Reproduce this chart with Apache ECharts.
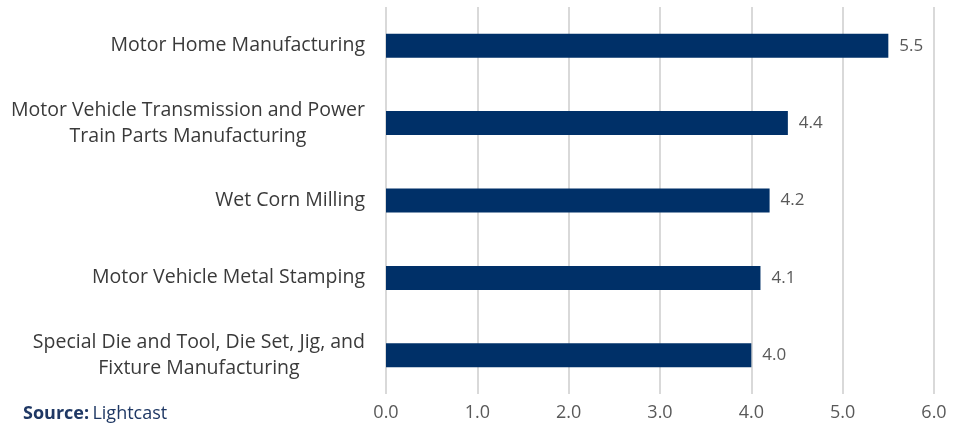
<!DOCTYPE html>
<html><head><meta charset="utf-8">
<script src="https://cdn.jsdelivr.net/npm/echarts@6/dist/echarts.min.js"></script>
<style>html,body{margin:0;padding:0;background:#fff}#c{width:965px;height:431px}</style>
</head><body><div id="c"></div>
<script>
const categories = [
  "Motor Home Manufacturing",
  "Motor Vehicle Transmission and Power\nTrain Parts Manufacturing",
  "Wet Corn Milling",
  "Motor Vehicle Metal Stamping",
  "Special Die and Tool, Die Set, Jig, and\nFixture Manufacturing"
];
const values = [5.5, 4.4, 4.2, 4.1, 4.0];
const xTicks = [0, 1, 2, 3, 4, 5, 6];

const chart = echarts.init(document.getElementById('c'));
const font = '"Open Sans", "Noto Sans", sans-serif';
chart.setOption({
  animation: false,
  grid: { left: 386, right: 31, top: 7, bottom: 37, containLabel: false },
  xAxis: {
    type: 'value', min: xTicks[0], max: xTicks[xTicks.length - 1], interval: 1,
    axisLine: { show: false }, axisTick: { show: false },
    splitLine: { lineStyle: { color: '#d9d9d9', width: 2 } },
    axisLabel: { color: '#595959', fontSize: 18, fontFamily: font, margin: 10,
      formatter: v => v.toFixed(1) }
  },
  yAxis: {
    type: 'category', data: categories, inverse: true,
    axisLine: { show: false }, axisTick: { show: false },
    axisLabel: { color: '#404040', fontSize: 19.5, fontFamily: font, margin: 21,
      lineHeight: 26, align: 'right',
      formatter: v => v.split('\n').map(s => '{a|' + s + '}').join('\n'),
      rich: { a: { align: 'center', color: '#3a3a3a', fontSize: 19.5, fontFamily: font, lineHeight: 26 } }
    }
  },
  series: [{
    type: 'bar', data: values, barWidth: 24,
    itemStyle: { color: '#003068' },
    label: { show: true, position: 'right', distance: 11, color: '#595959',
      fontSize: 17, fontFamily: font, formatter: p => p.value.toFixed(1) }
  }],
  graphic: [{
    type: 'text', left: 23, top: 405,
    style: {
      text: '{b|Source:} {r|Lightcast}',
      rich: {
        b: { fontWeight: 'bold', fill: '#1f3864', fontSize: 18, fontFamily: font },
        r: { fill: '#1f3864', fontSize: 18, fontFamily: font }
      }
    }
  }]
});
</script></body></html>
